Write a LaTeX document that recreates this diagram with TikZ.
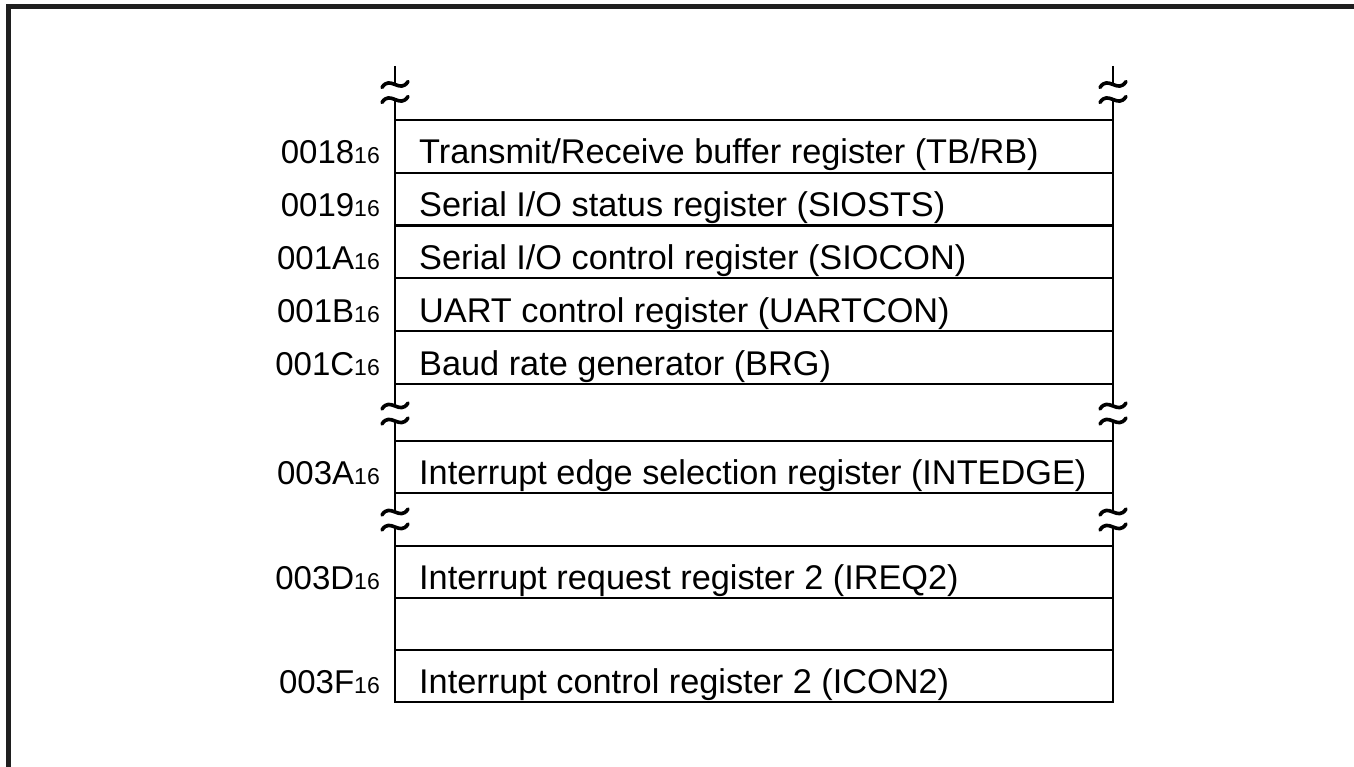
\documentclass[tikz,border=0pt]{standalone}
\usepackage{fontspec}
\setmainfont{Liberation Sans}
\newcommand\hexsub[1]{{\fontsize{23}{23}\selectfont #1}}
\newcommand\tildepair[2]{%
  \draw[tld] (#1-13,#2-7.5+3) .. controls (#1-5,#2-7.5-10) and (#1+5,#2-7.5+10) .. (#1+13,#2-7.5-3);
  \draw[tld] (#1-13,#2+7.5+3) .. controls (#1-5,#2+7.5-10) and (#1+5,#2+7.5+10) .. (#1+13,#2+7.5-3);
}
\begin{document}
\begin{tikzpicture}[x=1pt,y=-1pt,
  reg/.style={draw, line width=2pt, minimum width=718pt, minimum height=52.5pt, inner sep=0pt, outer sep=0pt},
  txt/.style={anchor=base west, inner sep=0pt, font=\fontsize{34.3}{34.3}\selectfont},
  lab/.style={anchor=base east, inner sep=0pt, font=\fontsize{33}{33}\selectfont},
  ln/.style={line width=2pt},
  tld/.style={line width=3.6pt, line cap=round},
  frame/.style={line width=5pt, color=black!88}]
\useasboundingbox (0,0) rectangle (1354,767);
\draw[frame] (8.5,767) -- (8.5,6.5) -- (1354,6.5);

% register rows
\node[reg] (r18) at (754,146.5) {};
\node[reg] (r19) at (754,199.25) {};
\node[reg] (r1A) at (754,252) {};
\node[reg] (r1B) at (754,304.75) {};
\node[reg] (r1C) at (754,357.5) {};
\node[reg] (r3A) at (754,467) {};
\node[reg] (r3D) at (754,572) {};
\node[reg] (rE)  at (754,624) {};
\node[reg] (r3F) at (754,676) {};

% texts
\node[txt] (t18) at (419,164) {Transmit/Receive buffer register (TB/RB)};
\node[txt] (t19) at (419,216.75) {Serial I/O status register (SIOSTS)};
\node[txt] (t1A) at (419,269.5) {Serial I/O control register (SIOCON)};
\node[txt] (t1B) at (419,322.25) {UART control register (UARTCON)};
\node[txt] (t1C) at (419,375) {Baud rate generator (BRG)};
\node[txt] (t3A) at (419,484.5) {Interrupt edge selection register (INTEDGE)};
\node[txt] (t3D) at (419,589.5) {Interrupt request register 2 (IREQ2)};
\node[txt] (t3F) at (419,693.5) {Interrupt control register 2 (ICON2)};

% addresses
\node[lab] (l18) at (380,164) {0018\hexsub{16}};
\node[lab] (l19) at (380,216.75) {0019\hexsub{16}};
\node[lab] (l1A) at (380,269.5) {001A\hexsub{16}};
\node[lab] (l1B) at (380,322.25) {001B\hexsub{16}};
\node[lab] (l1C) at (380,375) {001C\hexsub{16}};
\node[lab] (l3A) at (380,484.5) {003A\hexsub{16}};
\node[lab] (l3D) at (380,589.5) {003D\hexsub{16}};
\node[lab] (l3F) at (380,693.5) {003F\hexsub{16}};

% break lines
\coordinate (tl) at (395,66);
\coordinate (tr) at (1113,66);
\draw[ln] (tl) -- (395,84.5);
\draw[ln] (395,99.5) -- (r18.north west);
\draw[ln] (tr) -- (1113,84.5);
\draw[ln] (1113,99.5) -- (r18.north east);
\tildepair{395}{92}
\tildepair{1113}{92}

\draw[ln] (r1C.south west) -- (395,406);
\draw[ln] (395,421) -- (r3A.north west);
\draw[ln] (r1C.south east) -- (1113,406);
\draw[ln] (1113,421) -- (r3A.north east);
\tildepair{395}{413.5}
\tildepair{1113}{413.5}

\draw[ln] (r3A.south west) -- (395,512);
\draw[ln] (395,527) -- (r3D.north west);
\draw[ln] (r3A.south east) -- (1113,512);
\draw[ln] (1113,527) -- (r3D.north east);
\tildepair{395}{519.5}
\tildepair{1113}{519.5}
\end{tikzpicture}
\end{document}
